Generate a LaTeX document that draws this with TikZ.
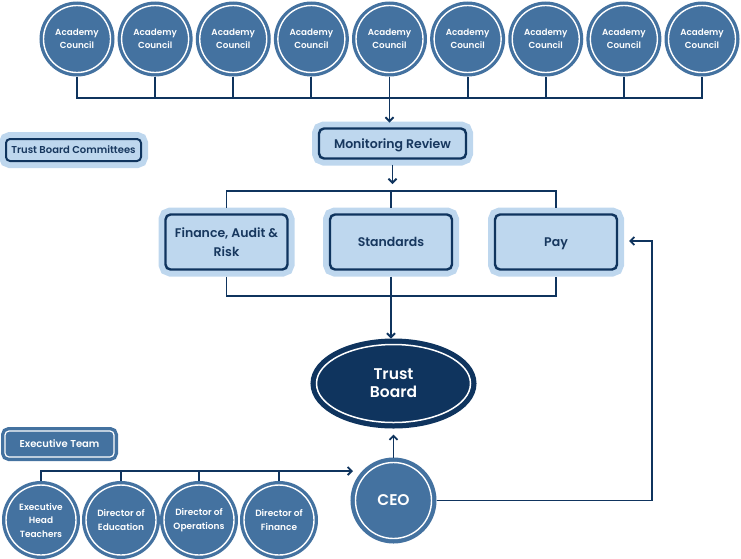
\documentclass[tikz,border=0pt]{standalone}
\usepackage{fontspec}
\setmainfont{Poppins}[BoldFont={Poppins SemiBold}]
\usetikzlibrary{shapes.geometric,arrows.meta,calc}
\definecolor{midblue}{RGB}{68,114,160}
\definecolor{navy}{RGB}{15,52,94}
\definecolor{lightblue}{RGB}{190,215,238}
\definecolor{txtnavy}{RGB}{23,55,94}
\newcommand{\nodesc}[1]{\raisebox{0pt}[\height][0pt]{#1}}
\begin{document}
\begin{tikzpicture}[x=1pt,y=-1pt,
  conn/.style={draw=navy,line width=1.8pt},
  arr/.style={conn,-{Straight Barb[length=4pt,width=8pt]}},
  acad/.style={circle,fill=midblue,draw=white,line width=1.4pt,
    preaction={draw=midblue,line width=8pt},minimum size=67pt,inner sep=0pt,
    outer sep=4pt,text=white,align=center,font=\bfseries\fontsize{8.8}{13}\selectfont},
  exec/.style={acad,minimum size=70pt,font=\bfseries\fontsize{9}{13.5}\selectfont},
  ceostyle/.style={acad,minimum size=76pt,preaction={draw=midblue,line width=10pt},
    outer sep=5pt,font=\bfseries\fontsize{15.5}{18}\selectfont},
  cbox/.style={rectangle,rounded corners=5pt,fill=lightblue,draw=navy,line width=2.4pt,
    preaction={draw=lightblue,line width=14pt},inner sep=0pt,outer sep=7pt,
    text=txtnavy,align=center,font=\bfseries\fontsize{12.5}{18.5}\selectfont,
    minimum width=122pt,minimum height=55pt},
  monbox/.style={cbox,preaction={draw=lightblue,line width=12pt},outer sep=6pt,
    minimum width=147pt,minimum height=30pt},
  tbcbox/.style={cbox,rounded corners=4pt,line width=2pt,preaction={draw=lightblue,line width=8pt},
    outer sep=4pt,minimum width=135pt,minimum height=22pt,font=\bfseries\fontsize{10}{12}\selectfont},
  etbox/.style={rectangle,rounded corners=4pt,fill=midblue,draw=white,line width=1.2pt,
    preaction={draw=midblue,line width=8pt},inner sep=0pt,outer sep=4pt,
    minimum width=109pt,minimum height=26pt,text=white,font=\bfseries\fontsize{10}{12}\selectfont},
  tbstyle/.style={ellipse,fill=navy,draw=white,line width=1.5pt,
    preaction={draw=navy,line width=12pt},minimum width=154pt,minimum height=78pt,
    inner sep=0pt,outer sep=6pt,text=white,align=center,font=\bfseries\fontsize{15.5}{18}\selectfont}
]
\useasboundingbox (0,0) rectangle (741,558);

% Academy councils
\foreach \i in {1,...,9}{
  \node[acad] (a\i) at ({77+78.125*(\i-1)},39) {Academy\\Council};
}
\coordinate (ab) at (0,98);
\draw[conn] (a1.south) -- (a1.south |- ab) -- (a9.south |- ab) -- (a9.south);
\foreach \i in {2,...,8}{
  \draw[conn] (a\i.south) -- (a\i.south |- ab);
}

% Monitoring review
\node[monbox] (mon) at (392.5,143.5) {\nodesc{Monitoring Review}};
\draw[arr] (a5.south |- ab) -- (a5.south |- mon.north);

% Committee label
\node[tbcbox] (tbc) at (73.5,150) {Trust Board Committees};

% Committees
\node[cbox] (fin) at (226.5,242) {Finance, Audit \&\\Risk};
\node[cbox] (std) at (391,242) {Standards};
\node[cbox] (pay) at (556,242) {\nodesc{Pay}};

\coordinate (cb) at (0,191);
\draw[arr] (mon.south) -- ($(mon.south |- cb)+(0,-7)$);
\draw[conn] (fin.north) -- (fin.north |- cb) -- (pay.north |- cb) -- (pay.north);
\draw[conn] (std.north) -- (std.north |- cb);

% Trust board
\node[tbstyle] (tb) at (393.5,383.5) {Trust\\Board};
\coordinate (lb) at (0,296);
\draw[conn] (fin.south) -- (fin.south |- lb) -- (pay.south |- lb) -- (pay.south);
\draw[arr] (std.south) -- (std.south |- tb.north);

% Executive team
\node[etbox] (et) at (59.5,444) {Executive Team};

\node[ceostyle] (ceo) at (393.5,500.5) {CEO};
\node[exec] (e1) at (41,520) {Executive\\Head\\Teachers};
\node[exec] (e2) at (121,520) {Director of\\Education};
\node[exec] (e3) at (199,520) {Director of\\Operations};
\node[exec] (e4) at (279,520) {Director of\\Finance};

\coordinate (xa) at (353,471);
\draw[arr] (e1.north) |- (xa);
\draw[conn] (e2.north) -- (e2.north |- xa);
\draw[conn] (e3.north) -- (e3.north |- xa);
\draw[conn] (e4.north) -- (e4.north |- xa);

\draw[arr] (ceo.north) -- ($(tb.south)+(0,6)$);
\coordinate (pr) at (652,241);
\draw[arr] (ceo.east) -| (pr) -- ($(pay.east |- pr)+(5,0)$);
\end{tikzpicture}
\end{document}
